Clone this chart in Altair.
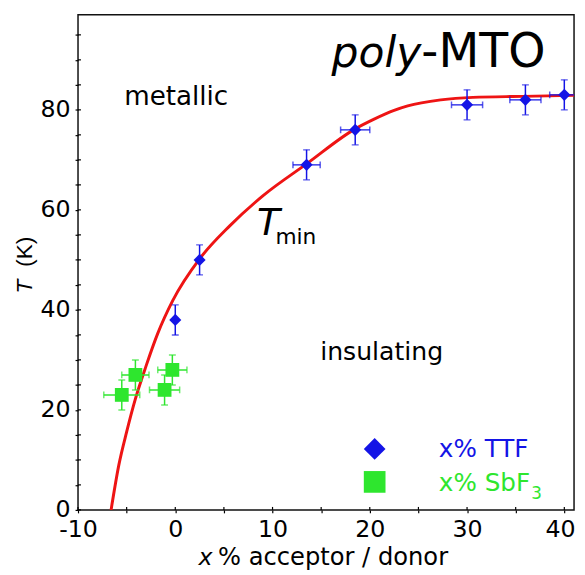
import altair as alt
import pandas as pd

# ---------------- data ----------------
# x% TTF (blue diamonds)
ttf_x = [0, 2.5, 13.5, 18.5, 30, 36, 40]
ttf_T = [38, 50, 69, 76, 81, 82, 83]
ttf_xerr = [0, 0, 1.4, 1.5, 1.6, 1.6, 1.5]
ttf_Terr = [3, 3, 3, 3, 3, 3, 3]

# x% SbF3 (green squares)
sbf_x = [-5.5, -4.1, -1.1, -0.3]
sbf_T = [23, 27, 24, 28]
sbf_xerr = [1.85, 1.4, 1.55, 1.5]
sbf_Terr = [3, 3, 3, 3]

# red Tmin curve
curve_x = [-6.6, -5.8, -5.0, -4.1, -3.0, -1.8, -0.25, 2.5, 5.6, 9.0, 13.5,
           18.5, 20.5, 22.5, 23.9, 27.3, 30.6, 35.7, 41]
curve_T = [0, 9, 15.6, 22.2, 28.8, 35.3, 41.9, 50.2, 56.8, 62.8, 69.2,
           76.2, 78.2, 79.9, 80.8, 82.0, 82.5, 82.7, 82.9]

x_ticks = [-10, -5, 0, 5, 10, 15, 20, 25, 30, 35, 40]
y_ticks = [0, 5, 10, 15, 20, 25, 30, 35, 40, 45, 50, 55, 60, 65, 70, 75, 80, 85, 90, 95]

FONT = "DejaVu Sans"
BLUE = "#1414e6"
GREEN = "#2ee62e"
RED = "#ee1414"

xs = alt.Scale(domain=[-10, 41], nice=False, zero=False)
ys = alt.Scale(domain=[0, 99], nice=False, zero=False)

xaxis = alt.Axis(values=x_ticks,
                 labelExpr="datum.value % 10 == 0 ? replace(datum.label, '\u2212', '-') : ''",
                 labelAlign={"condition": {"test": "datum.value == 40", "value": "right"}, "value": "center"},
                 labelOffset={"condition": {"test": "datum.value == 40", "value": 11}, "value": 0},
                 title=None, domain=False, grid=False, tickSize=3, tickColor="black",
                 tickWidth=1.2, labelFont=FONT, labelFontSize=24, labelColor="black",
                 labelPadding=5, labelOverlap=False, labelFlush=False)
yaxis = alt.Axis(values=y_ticks,
                 labelExpr="datum.value % 20 == 0 ? datum.label : ''",
                 title=None, domain=False, grid=False, tickSize=3, tickColor="black",
                 tickWidth=1.2, labelFont=FONT, labelFontSize=24, labelColor="black",
                 labelPadding=5, labelOverlap=False, labelFlush=False)


def X(f="x"):
    return alt.X(f, type="quantitative", scale=xs, axis=xaxis)


def Y(f="y"):
    return alt.Y(f, type="quantitative", scale=ys, axis=yaxis)


def frame(xv, yv, xe, ye):
    return pd.DataFrame({"x": xv, "y": yv,
                         "xlo": [a - b for a, b in zip(xv, xe)],
                         "xhi": [a + b for a, b in zip(xv, xe)],
                         "ylo": [a - b for a, b in zip(yv, ye)],
                         "yhi": [a + b for a, b in zip(yv, ye)],
                         "xe": xe})


ttf = frame(ttf_x, ttf_T, ttf_xerr, ttf_Terr)
sbf = frame(sbf_x, sbf_T, sbf_xerr, sbf_Terr)
curve = pd.DataFrame({"x": curve_x, "y": curve_T})

line = alt.Chart(curve).mark_line(color=RED, strokeWidth=3, interpolate="monotone", clip=True).encode(
    x=X(), y=Y())

inner_xt = alt.Chart(pd.DataFrame({"v": x_ticks})).mark_rule(color="black", strokeWidth=1.2).encode(
    x=X("v"), y=alt.value(502), y2=alt.value(499))
inner_yt = alt.Chart(pd.DataFrame({"v": y_ticks})).mark_rule(color="black", strokeWidth=1.2).encode(
    y=Y("v"), x=alt.value(0), x2=alt.value(3))


def errlayers(df, color):
    base = alt.Chart(df)
    vbar = base.mark_rule(color=color, strokeWidth=1.5, clip=True).encode(x=X(), y=Y("ylo"), y2="yhi")
    vcap1 = base.mark_tick(color=color, orient="horizontal", size=7, thickness=1.5, clip=True).encode(x=X(), y=Y("ylo"))
    vcap2 = base.mark_tick(color=color, orient="horizontal", size=7, thickness=1.5, clip=True).encode(x=X(), y=Y("yhi"))
    hb = base.transform_filter("datum.xe > 0")
    hbar = hb.mark_rule(color=color, strokeWidth=1.5, clip=True).encode(x=X("xlo"), x2="xhi", y=Y())
    hcap1 = hb.mark_tick(color=color, orient="vertical", size=7, thickness=1.5, clip=True).encode(x=X("xlo"), y=Y())
    hcap2 = hb.mark_tick(color=color, orient="vertical", size=7, thickness=1.5, clip=True).encode(x=X("xhi"), y=Y())
    return [vbar, vcap1, vcap2, hbar, hcap1, hcap2]


ttf_pts = alt.Chart(ttf).mark_point(shape="diamond", filled=True, size=150, color=BLUE, opacity=1).encode(x=X(), y=Y())
sbf_pts = alt.Chart(sbf).mark_point(shape="square", filled=True, size=196, color=GREEN, opacity=1).encode(x=X(), y=Y())

# legend symbols (data coordinates)
leg_ttf = alt.Chart(pd.DataFrame({"x": [20.5], "y": [12.2]})).mark_point(
    shape="diamond", filled=True, size=484, color=BLUE, opacity=1).encode(x=X(), y=Y())
leg_sbf = alt.Chart(pd.DataFrame({"x": [20.5], "y": [5.6]})).mark_point(
    shape="square", filled=True, size=484, color=GREEN, opacity=1).encode(x=X(), y=Y())


def txt(text, x, y, size, color="black", italic=False, align="left", angle=0, font=FONT):
    kw = dict(align=align, baseline="alphabetic", font=font, fontSize=size, color=color,
              fontStyle="italic" if italic else "normal")
    if angle:
        kw["angle"] = angle
    return alt.Chart(pd.DataFrame({"x": [x], "y": [y], "t": [text]})).mark_text(**kw).encode(
        x=X(), y=Y(), text="t:N")


texts = [
    txt("metallic", -5.25, 81.0, 26.5),
    txt("insulating", 14.9, 29.9, 25.5),
    txt("poly", 25.3, 88.6, 43, italic=True, align="right"),
    txt("-MTO", 25.3, 88.6, 48),
    txt("T", 8.4, 55.0, 38, italic=True),
    txt("min", 10.3, 53.1, 22),
    txt("x% TTF", 27.1, 10.6, 25, color=BLUE),
    txt("x% SbF", 27.1, 3.7, 25, color=GREEN),
    txt("3", 36.6, 2.1, 17, color=GREEN),
    # axis titles
    txt("x", 2.4, -11.1, 24, italic=True),
    txt("% acceptor / donor", 4.4, -11.1, 24.5),
    txt("T", -14.75, 43.3, 23, italic=True, angle=270, font="Liberation Sans"),
    txt("(K)", -14.75, 48.6, 23, angle=270, font="Liberation Sans"),
]

layers = [line, inner_xt, inner_yt] + errlayers(ttf, BLUE) + errlayers(sbf, GREEN) + \
    [ttf_pts, sbf_pts, leg_ttf, leg_sbf] + texts

chart = alt.layer(*layers).properties(
    width=503, height=502,
    autosize=alt.AutoSizeParams(type="none"),
    padding={"left": 71, "top": 3, "right": 3, "bottom": 58},
    background="white",
).configure_view(stroke="#111111", strokeWidth=1.5)

chart.save("out.html", embed_options={"renderer": "svg", "actions": False})
